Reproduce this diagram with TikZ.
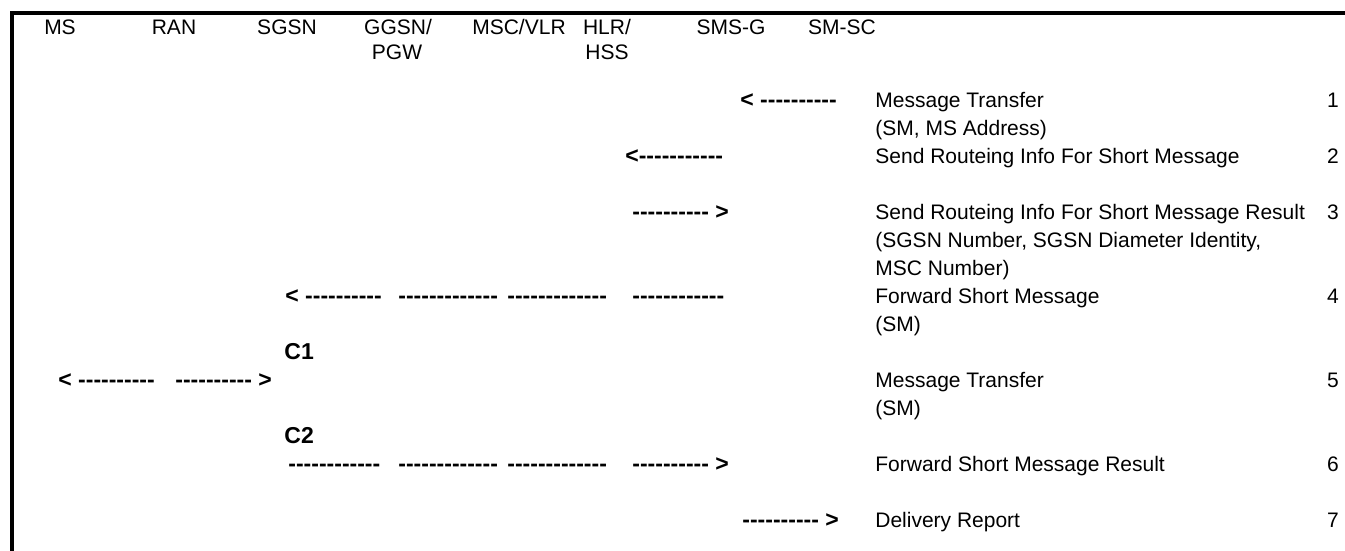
\documentclass[tikz,border=0pt]{standalone}
\usepackage{fontspec}
\setmainfont{Liberation Sans}[Ligatures=TeXOff]
\usetikzlibrary{positioning}

\begin{document}
\begin{tikzpicture}[x=0.5pt,y=-0.5pt,ent/.style={inner sep=0pt,anchor=base,font=\fontsize{10.5}{12.5}\selectfont},msg/.style={inner sep=0pt,anchor=base west,font=\fontsize{10.5}{14}\selectfont},num/.style={inner sep=0pt,anchor=base,font=\fontsize{10.5}{14}\selectfont},dashtxt/.style={inner sep=0pt,anchor=base west,font=\bfseries\fontsize{11.5}{14}\selectfont},frame/.style={line width=2pt}]
\useasboundingbox (0,0) rectangle (1345,551);
\draw[frame] (12,551) |- (1345,13.5);
% entities
\node[ent] (ms) at (60,35) {MS};
\node[ent] (ran) at (174,35) {RAN};
\node[ent] (sgsn) at (287,35) {SGSN};
\node[ent] (ggsn) at (398,35) {GGSN/};
\node[ent] (pgw) at (397,60) {PGW};
\node[ent] (msc) at (519,35) {MSC/VLR};
\node[ent] (hlr) at (607,35) {HLR/};
\node[ent] (hss) at (607,60) {HSS};
\node[ent] (smsg) at (731,35) {SMS-G};
\node[ent] (smsc) at (842,35) {SM-SC};
% 1
\node[dashtxt] (a1) at (740,107.5) {< ----------};
\node[msg] (m1) at (875,107.5) {Message Transfer};
\node[msg] (m1b) at (875,135.5) {(SM, MS Address)};
\node[num] (n1) at (1333,107.5) {1};
% 2
\node[dashtxt] (a2) at (625,163.5) {<-----------};
\node[msg] (m2) at (875,163.5) {Send Routeing Info For Short Message};
\node[num] (n2) at (1333,163.5) {2};
% 3
\node[dashtxt] (a3) at (632,219.5) {---------- >};
\node[msg] (m3) at (875,219.5) {Send Routeing Info For Short Message Result};
\node[msg] (m3b) at (875,247.5) {(SGSN Number, SGSN Diameter Identity,};
\node[msg] (m3c) at (875,275.5) {MSC Number)};
\node[num] (n3) at (1333,219.5) {3};
% 4
\node[dashtxt] (a4a) at (285,303.5) {< ----------};
\node[dashtxt] (a4b) at (398,303.5) {-------------};
\node[dashtxt] (a4c) at (507,303.5) {-------------};
\node[dashtxt] (a4d) at (632,303.5) {------------};
\node[msg] (m4) at (875,303.5) {Forward Short Message};
\node[msg] (m4b) at (875,331.5) {(SM)};
\node[num] (n4) at (1333,303.5) {4};
\node[dashtxt] (c1) at (284,359.5) {C1};
% 5
\node[dashtxt] (a5a) at (58,387.5) {< ----------};
\node[dashtxt] (a5b) at (175,387.5) {---------- >};
\node[msg] (m5) at (875,387.5) {Message Transfer};
\node[msg] (m5b) at (875,415.5) {(SM)};
\node[num] (n5) at (1333,387.5) {5};
\node[dashtxt] (c2) at (284,443.5) {C2};
% 6
\node[dashtxt] (a6a) at (288,471.5) {------------};
\node[dashtxt] (a6b) at (398,471.5) {-------------};
\node[dashtxt] (a6c) at (507,471.5) {-------------};
\node[dashtxt] (a6d) at (632,471.5) {---------- >};
\node[msg] (m6) at (875,471.5) {Forward Short Message Result};
\node[num] (n6) at (1333,471.5) {6};
% 7
\node[dashtxt] (a7) at (742,527.5) {---------- >};
\node[msg] (m7) at (875,527.5) {Delivery Report};
\node[num] (n7) at (1333,527.5) {7};
\end{tikzpicture}
\end{document}
